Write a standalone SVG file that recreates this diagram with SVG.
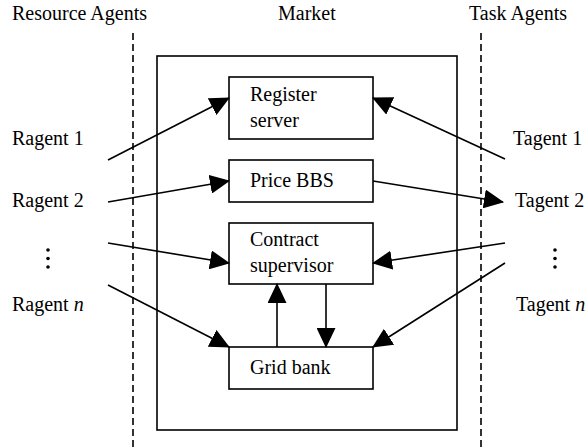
<svg xmlns="http://www.w3.org/2000/svg" width="585" height="447" viewBox="0 0 585 447">
<defs>
<style>
text{font-family:"Liberation Serif","Times New Roman",serif;font-size:20px;fill:#000}
.box{fill:#fff;stroke:#000;stroke-width:1.6}
.dash{stroke:#000;stroke-width:1.6;stroke-dasharray:7,4;fill:none}
.ar{stroke:#000;stroke-width:1.6;fill:none;marker-end:url(#ah)}
</style>
<marker id="ah" markerUnits="userSpaceOnUse" viewBox="0 0 20 19" refX="19" refY="9.5" markerWidth="20" markerHeight="19" orient="auto">
<path d="M0,0 L20,9.5 L0,19 Z" fill="#000"/>
</marker>
</defs>
<rect width="585" height="447" fill="#fff"/>
<g id="headers">
<text x="12" y="20">Resource Agents</text>
<text x="278" y="20">Market</text>
<text x="469" y="20">Task Agents</text>
</g>
<g id="dividers">
<line class="dash" x1="133" y1="33" x2="133" y2="447"/>
<line class="dash" x1="481" y1="33" x2="481" y2="447"/>
</g>
<g id="market"><rect class="box" x="157" y="56" width="300" height="374" fill="none" style="fill:none"/></g>
<g id="register-server"><rect class="box" x="229" y="77" width="144" height="62"/><text x="250" y="101">Register</text><text x="250" y="127">server</text></g>
<g id="price-bbs"><rect class="box" x="229" y="160" width="144" height="42"/><text x="250" y="187">Price BBS</text></g>
<g id="contract-supervisor"><rect class="box" x="229" y="223" width="144" height="61"/><text x="250" y="246">Contract</text><text x="250" y="272">supervisor</text></g>
<g id="grid-bank"><rect class="box" x="229" y="347" width="144" height="42"/><text x="250" y="374">Grid bank</text></g>
<g id="ragent-1"><text x="12" y="145">Ragent 1</text></g>
<g id="ragent-2"><text x="12" y="207">Ragent 2</text></g>
<g id="ragent-dots"><circle cx="48" cy="250" r="1.8"/><circle cx="48" cy="258.5" r="1.8"/><circle cx="48" cy="267" r="1.8"/></g>
<g id="ragent-n"><text x="12" y="311">Ragent <tspan font-style="italic">n</tspan></text></g>
<g id="tagent-1"><text x="513" y="145">Tagent 1</text></g>
<g id="tagent-2"><text x="515" y="207">Tagent 2</text></g>
<g id="tagent-dots"><circle cx="555" cy="250" r="1.8"/><circle cx="555" cy="258.5" r="1.8"/><circle cx="555" cy="267" r="1.8"/></g>
<g id="tagent-n"><text x="516" y="311">Tagent <tspan font-style="italic">n</tspan></text></g>
<g id="connectors">
<line class="ar" x1="108" y1="160" x2="229" y2="98"/>
<line class="ar" x1="108" y1="202" x2="229" y2="181"/>
<line class="ar" x1="108" y1="243" x2="229" y2="263"/>
<line class="ar" x1="108" y1="285" x2="229" y2="347"/>
<line class="ar" x1="505" y1="159" x2="373" y2="98"/>
<line class="ar" x1="373" y1="181" x2="503" y2="202"/>
<line class="ar" x1="505" y1="243" x2="373" y2="263"/>
<line class="ar" x1="505" y1="263" x2="373" y2="347"/>
<line class="ar" x1="277" y1="347" x2="277" y2="284"/>
<line class="ar" x1="326" y1="284" x2="326" y2="347"/>
</g>
</svg>
